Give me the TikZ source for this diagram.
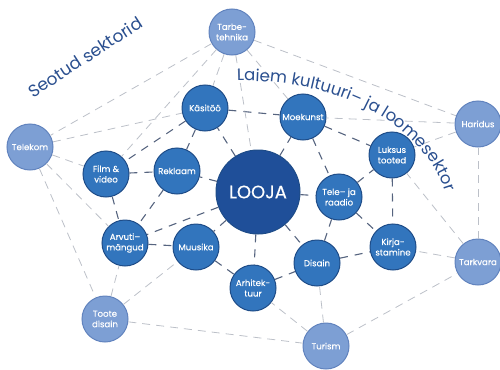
\documentclass[tikz,border=0pt]{standalone}
\usepackage{fontspec}
\setmainfont{Poppins}
\newfontfamily\nodefont[FakeBold=0.35]{Poppins}
\usepackage{xcolor}
\usepackage{tikz}
\usetikzlibrary{positioning,decorations.text}

\definecolor{coreblue}{HTML}{1F4F99}
\definecolor{innerblue}{HTML}{3275BD}
\definecolor{innerline}{HTML}{1E4C88}
\definecolor{outerblue}{HTML}{7D9FD4}
\definecolor{outerline}{HTML}{6183BE}
\definecolor{sectorblue}{HTML}{2A4F8F}
\definecolor{linkdark}{HTML}{56647F}
\definecolor{linklight}{HTML}{BCC0C8}

\tikzset{
  creator/.style={circle, fill=coreblue, draw=innerline, line width=1pt, minimum size=84pt, inner sep=0pt, text=white, font=\nodefont\fontsize{18}{20}\selectfont},
  inner sector/.style={circle, fill=innerblue, draw=innerline, line width=1pt, minimum size=46pt, inner sep=0pt, align=center, text=white, font=\nodefont\fontsize{8.6}{10.5}\selectfont},
  outer sector/.style={inner sector, fill=outerblue, draw=outerline},
  core link/.style={draw=linkdark, line width=1.1pt, dash pattern=on 8pt off 7pt},
  side link/.style={draw=linklight, line width=0.8pt, dash pattern=on 8pt off 6pt},
  sector label/.style={text=sectorblue, font=\fontsize{17}{17}\selectfont}
}

\begin{document}
\begin{tikzpicture}[x=1pt, y=-1pt]
\useasboundingbox (0,0) rectangle (500,369);

% looja
\node[creator] (looja) at (258,192) {LOOJA};

% laiem kultuuri- ja loomesektor
\node[inner sector] (kasitoo) at (205,108) {Käsitöö};
\node[inner sector] (moekunst) at (303,117) {Moekunst};
\node[inner sector] (luksus) at (392,155) {Luksus\\tooted};
\node[inner sector] (tele) at (339,197) {Tele– ja\\raadio};
\node[inner sector] (kirjastamine) at (393,247) {Kirja-\\stamine};
\node[inner sector] (disain) at (317,263) {Disain};
\node[inner sector] (arhitektuur) at (253,288) {Arhitek-\\tuur};
\node[inner sector] (muusika) at (196,247) {Muusika};
\node[inner sector] (arvuti) at (125,243) {Arvuti–\\mängud};
\node[inner sector] (film) at (106,174) {Film \&\\video};
\node[inner sector] (reklaam) at (177,171) {Reklaam};

% seotud sektorid
\node[outer sector] (tarbe) at (232,32) {Tarbe-\\tehnika};
\node[outer sector] (haridus) at (478,124) {Haridus};
\node[outer sector] (telekom) at (30,147) {Telekom};
\node[outer sector] (toote) at (105,319) {Toote\\disain};
\node[outer sector] (turism) at (326,346) {Turism};
\node[outer sector] (tarkvara) at (478,262) {Tarkvara};

% links
\foreach \a/\b in {looja/kasitoo, looja/moekunst, looja/tele, looja/reklaam, looja/muusika,
    looja/arhitektuur, looja/disain, looja/arvuti, kasitoo/moekunst, kasitoo/reklaam,
    kasitoo/film, film/reklaam, reklaam/arvuti, film/arvuti, arvuti/muusika,
    muusika/arhitektuur, arhitektuur/disain, disain/tele, disain/kirjastamine,
    tele/kirjastamine, tele/luksus, moekunst/tele, moekunst/luksus, luksus/kirjastamine}
  \draw[core link] (\a) -- (\b);

\foreach \a/\b in {tarbe/telekom, tarbe/film, tarbe/kasitoo, tarbe/looja, tarbe/moekunst,
    tarbe/haridus, telekom/kasitoo, telekom/film, telekom/arvuti, telekom/toote,
    toote/arvuti, toote/muusika, toote/turism, turism/arhitektuur, turism/disain,
    turism/tarkvara, tarkvara/kirjastamine, tarkvara/luksus, tarkvara/haridus,
    haridus/luksus, haridus/moekunst}
  \draw[side link] (\a) -- (\b);

% sector labels
\node[sector label, rotate=33] (seotud) at (85,57) {Seotud sektorid};
\path[decorate, decoration={text along path, text align=left,
    text={|\color{sectorblue}\fontsize{16.5}{17}\selectfont|Laiem kultuuri– ja loomesektor}}]
  (237,81) .. controls (345,79) and (430,130) .. (447,198) -- (453,225);
\end{tikzpicture}
\end{document}
